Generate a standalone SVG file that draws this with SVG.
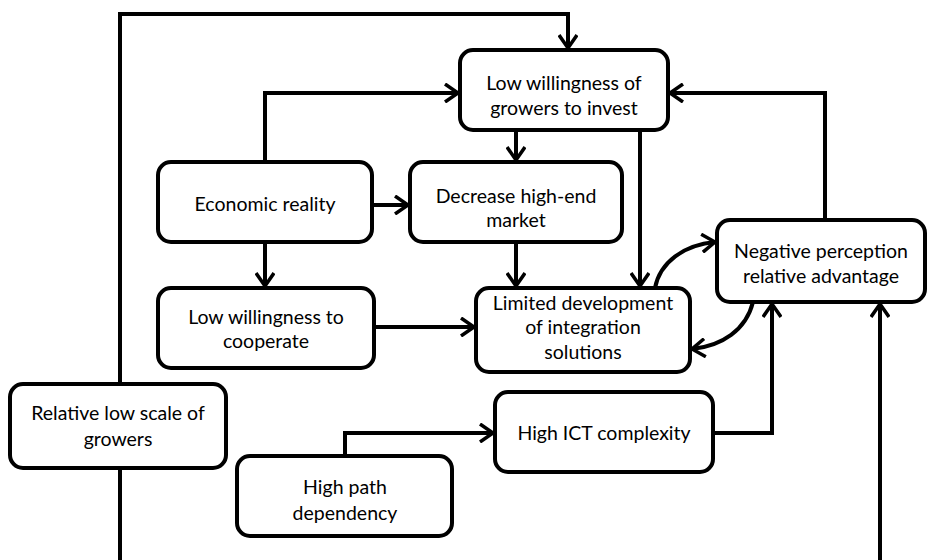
<svg xmlns="http://www.w3.org/2000/svg" width="927" height="560" viewBox="0 0 927 560">
<style>
.box{fill:#fff;stroke:#000;stroke-width:4}
.lbl{font-family:Lato,"Open Sans","Liberation Sans",sans-serif;font-size:19.5px;fill:#000;text-anchor:middle}
.c{fill:none;stroke:#000;stroke-width:4}
.a{marker-end:url(#ah)}
</style>
<defs>
<marker id="ah" viewBox="0 0 16 20" refX="14" refY="10" markerWidth="16" markerHeight="20" markerUnits="userSpaceOnUse" orient="auto">
<path d="M1,1 L14,10 L1,19" fill="none" stroke="#000" stroke-width="3.5"/>
</marker>
</defs>
<rect width="927" height="560" fill="#fff"/>
<g id="connectors">
<path class="c a" d="M120,560 V14 H568 V48"/>
<path class="c a" d="M265,162 V93 H458"/>
<path class="c a" d="M825,220 V93 H670"/>
<path class="c a" d="M516,130 V160"/>
<path class="c a" d="M640,130 V286"/>
<path class="c a" d="M372,205 H408"/>
<path class="c a" d="M265,242 V286"/>
<path class="c a" d="M516,242 V286"/>
<path class="c a" d="M374,327 H474"/>
<path class="c a" d="M655,288 C660,262 684,245 715,242"/>
<path class="c a" d="M753,302 C746,330 722,346 692,349"/>
<path class="c a" d="M713,433 H772 V304"/>
<path class="c a" d="M345,456 V433 H493"/>
<path class="c a" d="M880,560 V304"/>
</g>
<g id="n-invest"><rect class="box" x="460" y="50" width="208" height="80" rx="13"/><text class="lbl" x="564" y="90">Low willingness of</text><text class="lbl" x="564" y="115">growers to invest</text></g>
<g id="n-economic"><rect class="box" x="158" y="162" width="214" height="80" rx="13"/><text class="lbl" x="265" y="211">Economic reality</text></g>
<g id="n-decrease"><rect class="box" x="410" y="162" width="212" height="80" rx="13"/><text class="lbl" x="516" y="203">Decrease high-end</text><text class="lbl" x="516" y="227">market</text></g>
<g id="n-cooperate"><rect class="box" x="158" y="288" width="216" height="80" rx="13"/><text class="lbl" x="266" y="324">Low willingness to</text><text class="lbl" x="266" y="348">cooperate</text></g>
<g id="n-limited"><rect class="box" x="476" y="288" width="214" height="84" rx="13"/><text class="lbl" x="583" y="310">Limited development</text><text class="lbl" x="583" y="334">of integration</text><text class="lbl" x="583" y="359">solutions</text></g>
<g id="n-negative"><rect class="box" x="717" y="220" width="208" height="82" rx="13"/><text class="lbl" x="821" y="258">Negative perception</text><text class="lbl" x="821" y="283">relative advantage</text></g>
<g id="n-scale"><rect class="box" x="10" y="384" width="216" height="84" rx="13"/><text class="lbl" x="118" y="420">Relative low scale of</text><text class="lbl" x="118" y="446">growers</text></g>
<g id="n-ict"><rect class="box" x="495" y="392" width="218" height="80" rx="13"/><text class="lbl" x="604" y="440">High ICT complexity</text></g>
<g id="n-path"><rect class="box" x="237" y="456" width="215" height="80" rx="13"/><text class="lbl" x="345" y="494">High path</text><text class="lbl" x="345" y="520">dependency</text></g>
</svg>
